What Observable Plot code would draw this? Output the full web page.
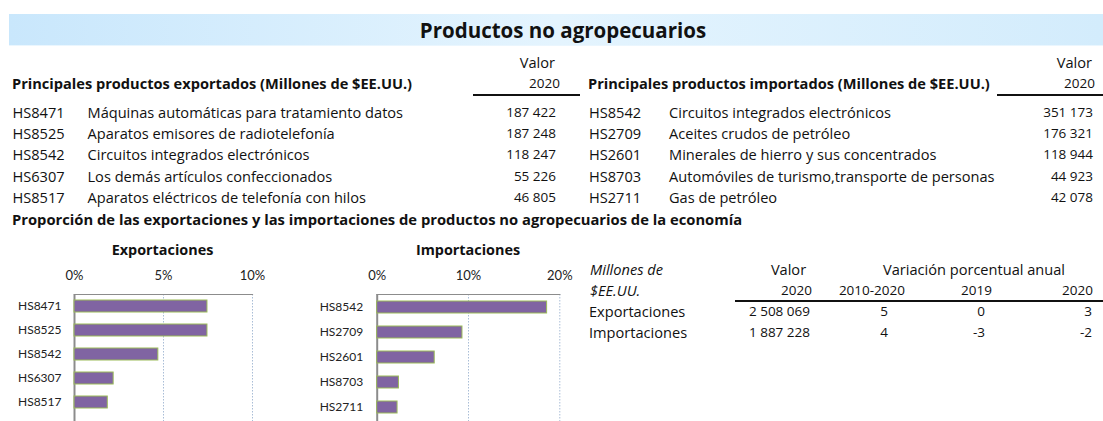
<!DOCTYPE html>
<html><head><meta charset="utf-8">
<script src="https://cdn.jsdelivr.net/npm/d3@7"></script>
<script src="https://cdn.jsdelivr.net/npm/@observablehq/plot@0.6"></script>
<style>
html,body{margin:0;padding:0;background:#fff;}
#root{position:relative;width:1103px;height:421px;overflow:hidden;font-family:"Open Sans","Liberation Sans",sans-serif;color:#111;}
.t{position:absolute;white-space:nowrap;line-height:20px;height:20px;}
.rule{position:absolute;border-top:2px solid #111;height:0;}
.band{position:absolute;left:9px;top:14px;width:1094px;height:31px;background:linear-gradient(to right,#c9e7fc 0%,#e4f4fe 50%,#d3ecfc 100%);border-bottom:1px solid #eaf6fe;}
.chart{position:absolute;top:240px;}
.chart svg{overflow:visible;}
.chart [aria-label^="x-axis"] text{font-size:13px;}
.chart [aria-label^="y-axis"] text{font-size:12px;}
</style>
</head><body><div id="root"><div class="band"></div></div>
<script>
// ---- data ----
const titleText = "Productos no agropecuarios";
const expHeader = "Principales productos exportados (Millones de $EE.UU.)";
const impHeader = "Principales productos importados (Millones de $EE.UU.)";
const expCodes = ["HS8471","HS8525","HS8542","HS6307","HS8517"];
const expNames = ["Máquinas automáticas para tratamiento datos","Aparatos emisores de radiotelefonía","Circuitos integrados electrónicos","Los demás artículos confeccionados","Aparatos eléctricos de telefonía con hilos"];
const expValues = [187422,187248,118247,55226,46805];
const impCodes = ["HS8542","HS2709","HS2601","HS8703","HS2711"];
const impNames = ["Circuitos integrados electrónicos","Aceites crudos de petróleo","Minerales de hierro y sus concentrados","Automóviles de turismo,transporte de personas","Gas de petróleo"];
const impValues = [351173,176321,118944,44923,42078];
const sectionTitle = "Proporción de las exportaciones y las importaciones de productos no agropecuarios de la economía";
const expShares = [7.47,7.47,4.71,2.20,1.87];   // % of total exports
const impShares = [18.61,9.34,6.30,2.38,2.23];  // % of total imports
const expTicks = [0,5,10];
const impTicks = [0,10,20];
const summaryLabels = ["Exportaciones","Importaciones"];
const summaryValor = [2508069,1887228];
const summaryVar1020 = [5,4];
const summaryVar2019 = [0,-3];
const summaryVar2020 = [3,-2];

// ---- helpers ----
const root = document.getElementById("root");
const fmt = d3.formatLocale({thousands:" ",grouping:[3],decimal:",",currency:["",""]}).format(",d");
const FS = 14.6, NS = 13.5;
function txt(s,x,y,o={}){
  const d=document.createElement("div");d.className="t";d.textContent=s;
  d.style.fontSize=(o.size||FS)+"px";
  if(o.bold)d.style.fontWeight="700";
  if(o.italic)d.style.fontStyle="italic";
  if(o.align==="right")d.style.right=(1103-x)+"px";
  else if(o.align==="center"){d.style.left=x+"px";d.style.transform="translateX(-50%)";}
  else d.style.left=x+"px";
  d.style.top=(y-10)+"px";
  root.appendChild(d);return d;
}
function hrule(x1,x2,y){const d=document.createElement("div");d.className="rule";d.style.left=x1+"px";d.style.width=(x2-x1)+"px";d.style.top=(y-1)+"px";root.appendChild(d);}

// ---- title ----
const tt=txt(titleText,563,30,{size:20.5,bold:true,align:"center"});tt.style.lineHeight="24px";tt.style.height="24px";tt.style.top="18px";

// ---- top tables ----
txt("Valor",555,62,{align:"right"});
txt("2020",560,83,{align:"right",size:NS});
hrule(473,580,94.5);
txt(expHeader,12,83,{bold:true});
txt("Valor",1092,62,{align:"right"});
txt("2020",1095,83,{align:"right",size:NS});
hrule(997,1103,94.5);
const ih=txt(impHeader,588,83,{bold:true});ih.style.width="407px";ih.style.overflow="hidden";
expCodes.forEach((c,i)=>{const y=112+i*21.2;
  txt(c,12.5,y);txt(expNames[i],87.5,y);txt(fmt(expValues[i]),556,y,{align:"right",size:NS});});
impCodes.forEach((c,i)=>{const y=112+i*21.2;
  txt(c,589,y);txt(impNames[i],669,y);txt(fmt(impValues[i]),1093,y,{align:"right",size:NS});});
txt(sectionTitle,12,218.5,{bold:true,size:14.75});

// ---- bar charts ----
txt("Exportaciones",162.5,250,{bold:true,size:14.4,align:"center"});
txt("Importaciones",468,250,{bold:true,size:14.4,align:"center"});

function barChart(codes,shares,ticks,opt){
  const data=codes.map((c,i)=>({code:c,share:shares[i]}));
  const dmax=ticks[ticks.length-1];
  const plotW=opt.width-opt.ml-opt.mr;
  return Plot.plot({
    width:opt.width,height:181,
    marginLeft:opt.ml,marginRight:opt.mr,marginTop:54,marginBottom:0,
    style:{fontFamily:"Lato, 'Liberation Sans', sans-serif",fontSize:"12px",color:"#222",background:"transparent",overflow:"visible"},
    x:{domain:[0,dmax],axis:"top",ticks:ticks,tickFormat:d=>d+"%",tickSize:0,tickPadding:15,label:null},
    y:{domain:codes,range:opt.yr,paddingInner:0.52,paddingOuter:0.26,tickSize:0,tickPadding:opt.tp,label:null},
    marks:[
      Plot.ruleX(ticks.slice(1),{stroke:"#a9bdd6",strokeDasharray:"1.5,1.5",strokeWidth:1}),
      Plot.ruleX([0],{stroke:"#8c8c8c",strokeWidth:2}),
      Plot.frame({anchor:"top",stroke:"#8c8c8c",strokeWidth:1.2,strokeDasharray:`${plotW} 100000`}),
      Plot.barX(data,{x:"share",y:"code",fill:"#8064a2",stroke:"#9bbb59",strokeWidth:1})
    ]
  });
}
const ec=document.createElement("div");ec.className="chart";ec.style.left="0px";
ec.appendChild(barChart(expCodes,expShares,expTicks,{width:270,ml:74,mr:18,yr:[54,174],tp:13}));
root.appendChild(ec);
const ic=document.createElement("div");ic.className="chart";ic.style.left="290px";
ic.appendChild(barChart(impCodes,impShares,impTicks,{width:290,ml:86.7,mr:20.7,yr:[54.3,179.3],tp:14}));
root.appendChild(ic);

// ---- summary table ----
txt("Millones de",590,269,{italic:true});
txt("$EE.UU.",590,290,{italic:true});
txt("Valor",788.5,269,{align:"center"});
txt("Variación porcentual anual",974,269,{align:"center"});
txt("2020",812,290,{align:"right",size:NS});
txt("2010-2020",905,290,{align:"right",size:NS});
txt("2019",992,290,{align:"right",size:NS});
txt("2020",1093,290,{align:"right",size:NS});
hrule(735,1103,300.5);
summaryLabels.forEach((l,i)=>{const y=311+i*20.5;
  txt(l,589,y);
  txt(fmt(summaryValor[i]),810,y,{align:"right",size:NS});
  txt(String(summaryVar1020[i]),888,y,{align:"right",size:NS});
  txt(String(summaryVar2019[i]),985,y,{align:"right",size:NS});
  txt(String(summaryVar2020[i]),1092,y,{align:"right",size:NS});
});
</script></body></html>
